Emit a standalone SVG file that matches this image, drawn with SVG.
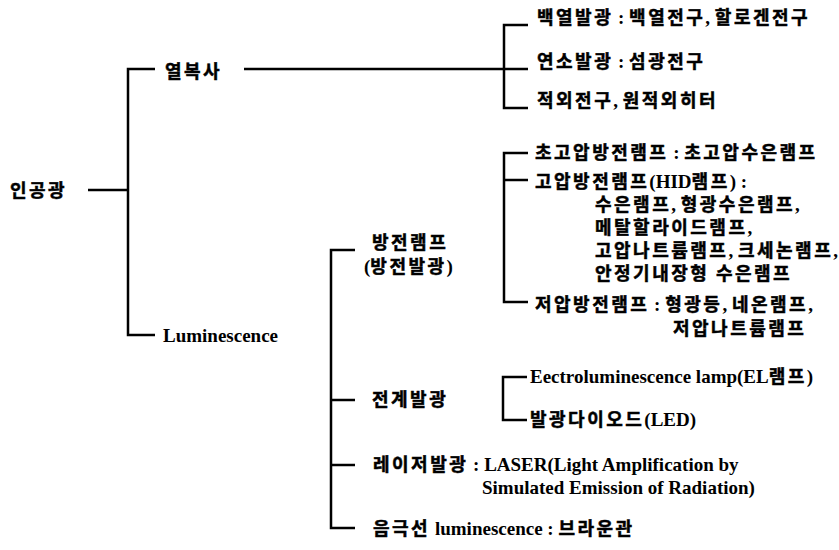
<svg xmlns="http://www.w3.org/2000/svg" width="839" height="550" viewBox="0 0 839 550">
<style>
text{font-family:"Liberation Serif","Noto Sans CJK KR",serif;font-weight:bold;font-size:19px;fill:#000}
.k{font-family:"Noto Sans CJK KR",sans-serif;font-size:18px;letter-spacing:2.5px;stroke:#000;stroke-width:0.5}
.c path{fill:none;stroke:#000;stroke-width:2.5;stroke-linecap:butt;stroke-linejoin:miter}
</style>
<rect width="839" height="550" fill="#fff"/>
<g class="c" id="connectors">
<path d="M88,190H128"/>
<path d="M155,69H128V335H155"/>
<path d="M244,69H528"/>
<path d="M528,25H504V108H528"/>
<path d="M528,153H504V302H528"/>
<path d="M504,180H528"/>
<path d="M355,250H331V528H355"/>
<path d="M331,400H355"/>
<path d="M331,465H355"/>
<path d="M527,377H503V420H527"/>
</g>
<g id="n-ingonggwang"><text x="10" y="197" class="k">인공광</text></g>
<g id="n-yeolboksa"><text x="165" y="78" class="k">열복사</text></g>
<g id="n-luminescence"><text x="163" y="342">Luminescence</text></g>
<g id="n-baekyeol"><text x="537" y="24"><tspan class="k">백열발광</tspan> : <tspan class="k">백열전구</tspan>, <tspan class="k">할로겐전구</tspan></text></g>
<g id="n-yeonso"><text x="537" y="68"><tspan class="k">연소발광</tspan> : <tspan class="k">섬광전구</tspan></text></g>
<g id="n-jeogoe"><text x="537" y="107"><tspan class="k">적외전구</tspan>, <tspan class="k">원적외히터</tspan></text></g>
<g id="n-chogoap"><text x="535" y="159"><tspan class="k">초고압방전램프</tspan> : <tspan class="k">초고압수은램프</tspan></text></g>
<g id="n-goap">
<text x="535" y="188"><tspan class="k">고압방전램프</tspan>(HID<tspan class="k">램프</tspan>) :</text>
<text x="595" y="211"><tspan class="k">수은램프</tspan>, <tspan class="k">형광수은램프</tspan>,</text>
<text x="595" y="234"><tspan class="k">메탈할라이드램프</tspan>,</text>
<text x="595" y="257"><tspan class="k">고압나트륨램프</tspan>, <tspan class="k">크세논램프</tspan>,</text>
<text x="595" y="280"><tspan class="k">안정기내장형 수은램프</tspan></text>
</g>
<g id="n-jeoap">
<text x="535" y="311"><tspan class="k">저압방전램프</tspan> : <tspan class="k">형광등</tspan>, <tspan class="k">네온램프</tspan>,</text>
<text x="673" y="335" class="k">저압나트륨램프</text>
</g>
<g id="n-bangjeon">
<text x="372" y="249" class="k">방전램프</text>
<text x="364" y="273">(<tspan class="k">방전발광</tspan>)</text>
</g>
<g id="n-jeongye"><text x="372" y="406" class="k">전계발광</text></g>
<g id="n-el"><text x="530" y="383">Eectroluminescence lamp(EL<tspan class="k">램프</tspan>)</text></g>
<g id="n-led"><text x="530" y="426"><tspan class="k">발광다이오드</tspan>(LED)</text></g>
<g id="n-laser">
<text x="373" y="471"><tspan class="k">레이저발광</tspan> : LASER(Light Amplification by</text>
<text x="482" y="494">Simulated Emission of Radiation)</text>
</g>
<g id="n-cathode"><text x="373" y="535"><tspan class="k">음극선</tspan> luminescence : <tspan class="k">브라운관</tspan></text></g>
</svg>
